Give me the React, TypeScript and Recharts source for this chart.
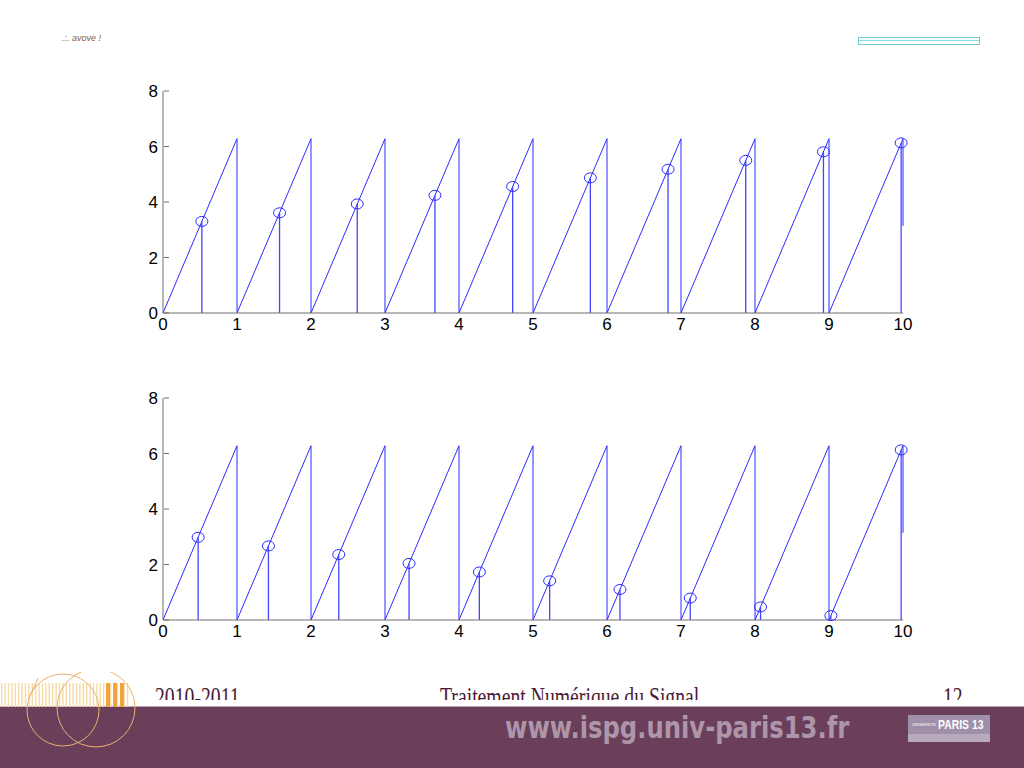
import React from 'react';
import { ComposedChart, Line, Scatter, XAxis, YAxis } from 'recharts';

// sawtooth phase (corners of the curve)
const sawX = [0, 1, 1, 2, 2, 3, 3, 4, 4, 5, 5, 6, 6, 7, 7, 8, 8, 9, 9, 10, 10];
const sawY = [0, 6.28, 0, 6.28, 0, 6.28, 0, 6.28, 0, 6.28, 0, 6.28, 0, 6.28, 0, 6.28, 0, 6.28, 0, 6.28, 3.14];

// samples, top plot
const topT = [0.525, 1.575, 2.625, 3.675, 4.725, 5.775, 6.825, 7.875, 8.925, 9.975];
const topV = [3.3, 3.61, 3.93, 4.24, 4.56, 4.87, 5.18, 5.5, 5.81, 6.13];

// samples, bottom plot
const botT = [0.475, 1.425, 2.375, 3.325, 4.275, 5.225, 6.175, 7.125, 8.075, 9.025, 9.975];
const botV = [2.98, 2.67, 2.36, 2.04, 1.73, 1.41, 1.1, 0.79, 0.47, 0.16, 6.13];

const xTicks = [0, 1, 2, 3, 4, 5, 6, 7, 8, 9, 10];
const yTicks = [0, 2, 4, 6, 8];

const BLUE = '#2b2bff';
const AXIS = '#6e6e6e';
const FONT = '"Liberation Sans", Arial, sans-serif';
const SERIF = '"Liberation Serif", serif';

const sawData = sawX.map((x, i) => ({ x, y: sawY[i] }));

function stems(t: number[], v: number[]) {
  const out: { x: number; y: number | null }[] = [];
  t.forEach((x, i) => {
    out.push({ x, y: 0 }, { x, y: v[i] }, { x, y: null });
  });
  return out;
}

const YTick = (props: any) => {
  const { x, y, payload } = props;
  return (
    <g>
      <line x1={x + 6} x2={x + 11} y1={y} y2={y} stroke={AXIS} />
      <text x={x} y={y} dy="0.355em" textAnchor="end" fontSize={17} fontFamily={FONT} fill="#000">
        {payload.value}
      </text>
    </g>
  );
};

const Ring = (props: any) => (
  <ellipse cx={props.cx} cy={props.cy} rx={6} ry={5} fill="none" stroke={BLUE} strokeWidth={1} />
);

function StemPlot({ t, v, top }: { t: number[]; v: number[]; top: number }) {
  const pts = t.map((x, i) => ({ x, y: v[i] }));
  return (
    <div style={{ position: 'absolute', left: 0, top }}>
      <ComposedChart width={1024} height={290} margin={{ top: 31, right: 121, bottom: 7, left: 133 }}>
        <XAxis
          type="number"
          dataKey="x"
          domain={[0, 10]}
          ticks={xTicks}
          height={30}
          tickSize={0}
          tickMargin={5}
          tickLine={false}
          stroke={AXIS}
          tick={{ fill: '#000', fontSize: 17, fontFamily: FONT }}
          allowDuplicatedCategory={false}
        />
        <YAxis
          type="number"
          domain={[0, 8]}
          ticks={yTicks}
          width={30}
          tickSize={0}
          tickMargin={5}
          tickLine={false}
          stroke={AXIS}
          tick={<YTick />}
        />
        <Line
          data={sawData}
          dataKey="y"
          type="linear"
          stroke={BLUE}
          strokeWidth={1}
          dot={false}
          isAnimationActive={false}
        />
        <Line
          data={stems(t, v)}
          dataKey="y"
          type="linear"
          stroke="#4646ff"
          strokeWidth={1.3}
          dot={false}
          connectNulls={false}
          isAnimationActive={false}
        />
        <Scatter data={pts} dataKey="y" shape={<Ring />} isAnimationActive={false} />
      </ComposedChart>
    </div>
  );
}

const footText: React.CSSProperties = {
  position: 'absolute',
  top: 684,
  fontSize: 27,
  lineHeight: 1,
  fontFamily: SERIF,
  color: '#4a1a36',
  transform: 'scaleX(0.73)',
  transformOrigin: 'left',
  whiteSpace: 'nowrap',
};

export default function App() {
  const stripes = [];
  for (let i = 0; i < 38; i++) {
    stripes.push(<rect key={i} x={1 + i * 3.4} y={683} width={1.4} height={24} fill="#f7d9a6" />);
  }
  return (
    <div style={{ position: 'absolute', left: 0, top: 0, width: 1024, height: 768, background: '#fff', overflow: 'hidden' }}>
      <div style={{ position: 'absolute', left: 62, top: 33, fontSize: 9, fontStyle: 'italic', color: '#8a5a3a', fontFamily: FONT }}>
        .:. avove !
      </div>
      <div style={{ position: 'absolute', left: 858, top: 37, width: 120, height: 6, border: '1px solid #6fcfcf' }}>
        <div style={{ position: 'absolute', left: 0, top: 2, width: 120, height: 0, borderTop: '1px solid #8fdede' }} />
      </div>

      <StemPlot t={topT} v={topV} top={60} />
      <StemPlot t={botT} v={botV} top={367} />

      {/* footer, text clipped by its box as on the slide */}
      <div style={{ position: 'absolute', left: 0, top: 0, width: 1024, height: 700, overflow: 'hidden' }}>
        <div style={{ ...footText, left: 155 }}>2010-2011</div>
        <div style={{ ...footText, left: 440 }}>Traitement Numérique du Signal</div>
        <div style={{ ...footText, left: 943 }}>12</div>
      </div>
      <div style={{ position: 'absolute', left: 0, top: 706, width: 1024, height: 1, background: '#b9aab2' }} />
      <div style={{ position: 'absolute', left: 0, top: 707, width: 1024, height: 61, background: '#6b3f5a' }} />
      <div style={{ position: 'absolute', left: 505, top: 712, fontSize: 31, lineHeight: 1, fontWeight: 'bold', fontFamily: '"DejaVu Sans Condensed", "DejaVu Sans", sans-serif', color: '#ad96aa', transform: 'scaleX(0.87)', transformOrigin: 'left', whiteSpace: 'nowrap' }}>
        www.ispg.univ-paris13.fr
      </div>
      <div style={{ position: 'absolute', left: 908, top: 715, width: 82, height: 27, background: '#a08fa8' }}>
        <div style={{ position: 'absolute', left: 0, top: 19, width: 82, height: 8, background: '#b8aabd' }} />
        <div style={{ position: 'absolute', left: 30, top: 2, fontSize: 13, fontWeight: 'bold', color: '#fff', fontFamily: FONT, transform: 'scaleX(0.8)', transformOrigin: 'left', whiteSpace: 'nowrap' }}>
          PARIS 13
        </div>
        <div style={{ position: 'absolute', left: 4, top: 7, fontSize: 4, color: '#fff', fontFamily: FONT }}>UNIVERSITE</div>
      </div>
      <svg width={160} height={90} style={{ position: 'absolute', left: 0, top: 672 }}>
        <g transform="translate(0,-672)">
          {stripes}
          <rect x={106} y={683} width={4} height={24} fill="#f2a43a" />
          <rect x={113} y={683} width={4} height={24} fill="#f2a43a" />
          <rect x={120} y={683} width={4} height={24} fill="#f2a43a" />
          <circle cx={63} cy={710} r={36} fill="none" stroke="#e8b070" strokeWidth={1} />
          <circle cx={96} cy={708} r={39} fill="none" stroke="#e8b070" strokeWidth={1} />
          <line x1={28} y1={700} x2={38} y2={678} stroke="#e8b070" strokeWidth={1} />
        </g>
      </svg>
    </div>
  );
}
